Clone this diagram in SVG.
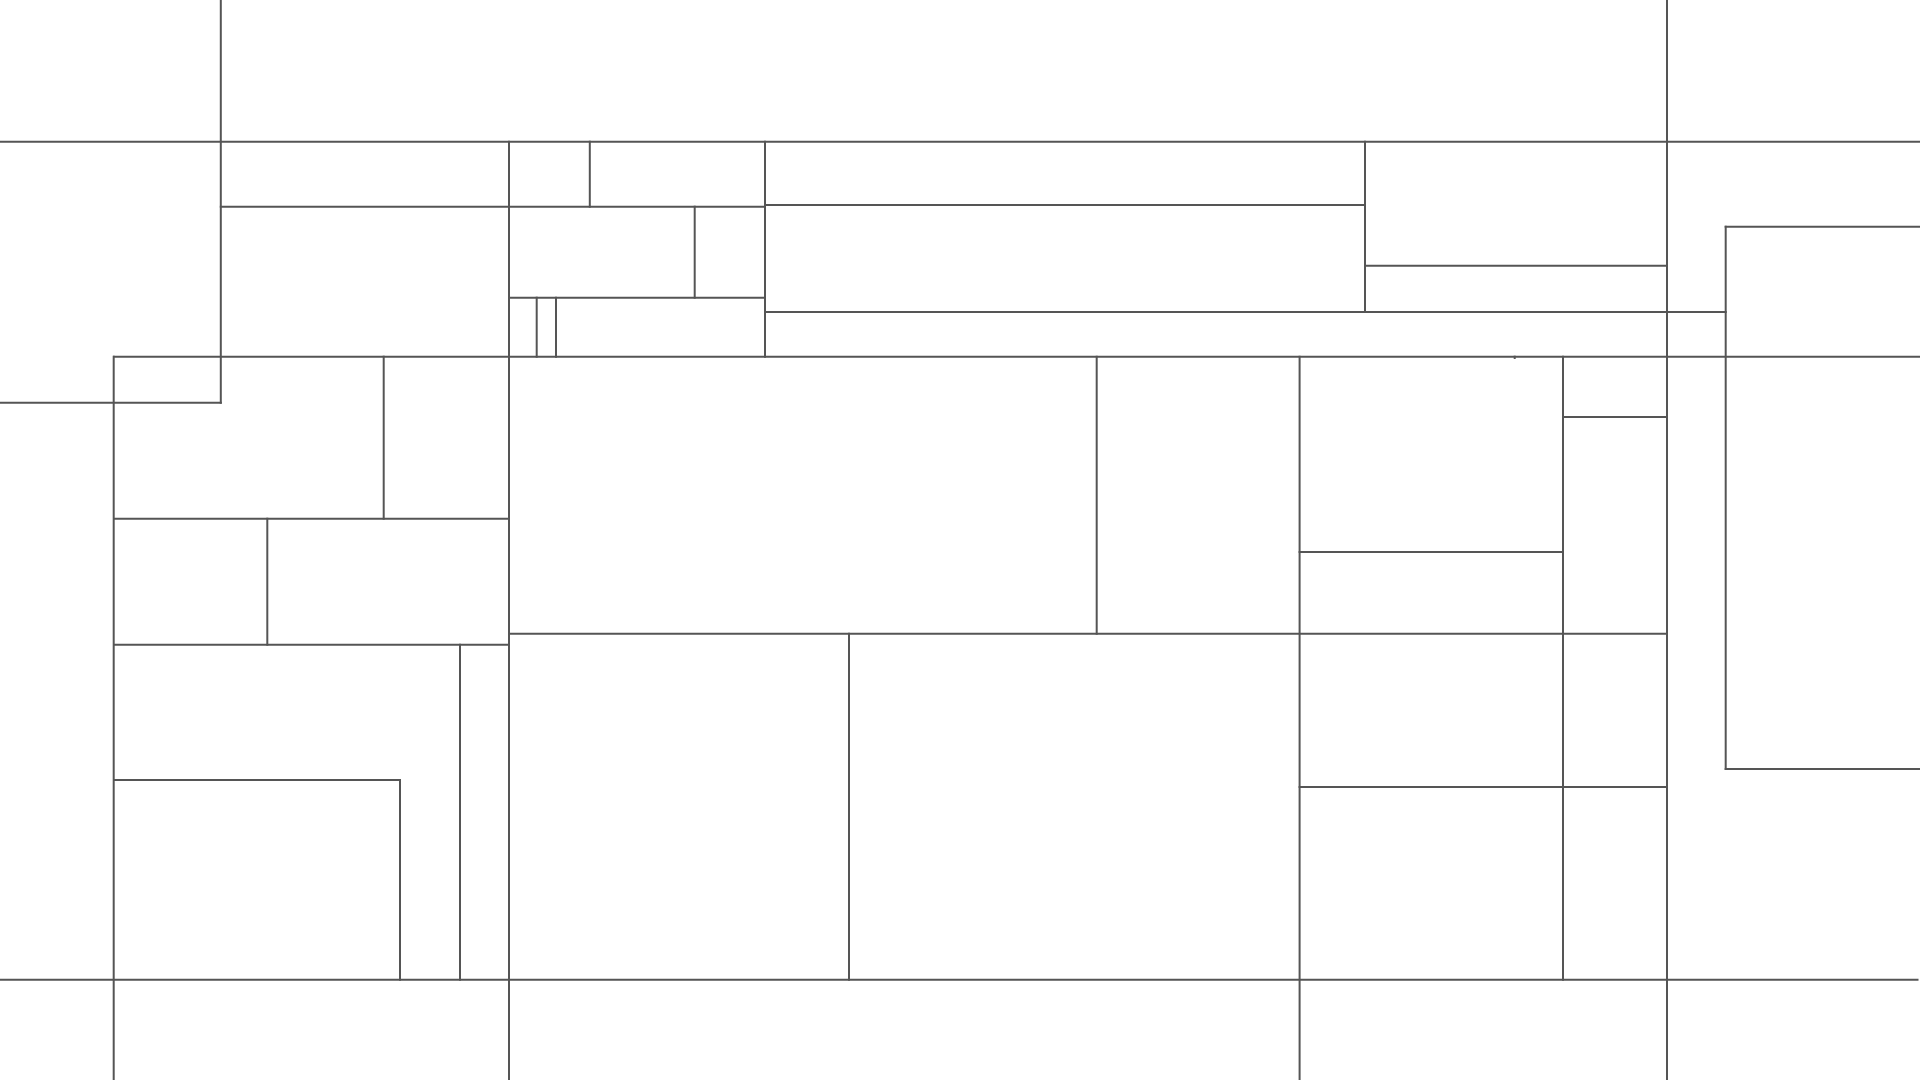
<svg xmlns="http://www.w3.org/2000/svg" width="1920" height="1080" viewBox="0 0 1920 1080">
<style>
line{stroke:#555555;stroke-width:2;stroke-linecap:square;fill:none}
</style>
<rect x="0" y="0" width="1920" height="1080" fill="#ffffff"/>
<g id="horizontal">
<line x1="0" y1="141.7" x2="1920" y2="141.7"/>
<line x1="220.8" y1="206.7" x2="765" y2="206.7"/>
<line x1="765" y1="205" x2="1365" y2="205"/>
<line x1="509" y1="297.7" x2="765" y2="297.7"/>
<line x1="1365" y1="265.7" x2="1667" y2="265.7"/>
<line x1="765" y1="312" x2="1725.7" y2="312"/>
<line x1="1725.7" y1="226.7" x2="1920" y2="226.7"/>
<line x1="114" y1="356.7" x2="1920" y2="356.7"/>
<line x1="0" y1="402.7" x2="220.8" y2="402.7"/>
<line x1="1563" y1="417" x2="1667" y2="417"/>
<line x1="114" y1="518.7" x2="509" y2="518.7"/>
<line x1="1299.6" y1="552" x2="1563" y2="552"/>
<line x1="509" y1="633.7" x2="1667" y2="633.7"/>
<line x1="114" y1="644.7" x2="509" y2="644.7"/>
<line x1="1725.7" y1="769" x2="1920" y2="769"/>
<line x1="114" y1="780" x2="400" y2="780"/>
<line x1="1299.6" y1="787" x2="1667" y2="787"/>
<line x1="0" y1="979.7" x2="1917.5" y2="979.7"/>
</g>
<g id="vertical">
<line x1="220.8" y1="0" x2="220.8" y2="402.7"/>
<line x1="1667" y1="0" x2="1667" y2="1080"/>
<line x1="509" y1="141.7" x2="509" y2="1080"/>
<line x1="589.8" y1="141.7" x2="589.8" y2="206.7"/>
<line x1="765" y1="141.7" x2="765" y2="356.7"/>
<line x1="1365" y1="141.7" x2="1365" y2="312"/>
<line x1="694.7" y1="206.7" x2="694.7" y2="297.7"/>
<line x1="536.7" y1="297.7" x2="536.7" y2="356.7"/>
<line x1="556" y1="297.7" x2="556" y2="356.7"/>
<line x1="1725.7" y1="226.7" x2="1725.7" y2="769"/>
<line x1="113.7" y1="356.7" x2="113.7" y2="1080"/>
<line x1="383.7" y1="356.7" x2="383.7" y2="518.7"/>
<line x1="1096.7" y1="356.7" x2="1096.7" y2="633.7"/>
<line x1="1299.6" y1="356.7" x2="1299.6" y2="1080"/>
<line x1="1563" y1="356.7" x2="1563" y2="979.7"/>
<line x1="1514.7" y1="356.7" x2="1514.7" y2="358"/>
<line x1="267.3" y1="518.7" x2="267.3" y2="644.7"/>
<line x1="849" y1="633.7" x2="849" y2="979.7"/>
<line x1="460" y1="644.7" x2="460" y2="979.7"/>
<line x1="400" y1="780" x2="400" y2="979.7"/>
</g>
</svg>
